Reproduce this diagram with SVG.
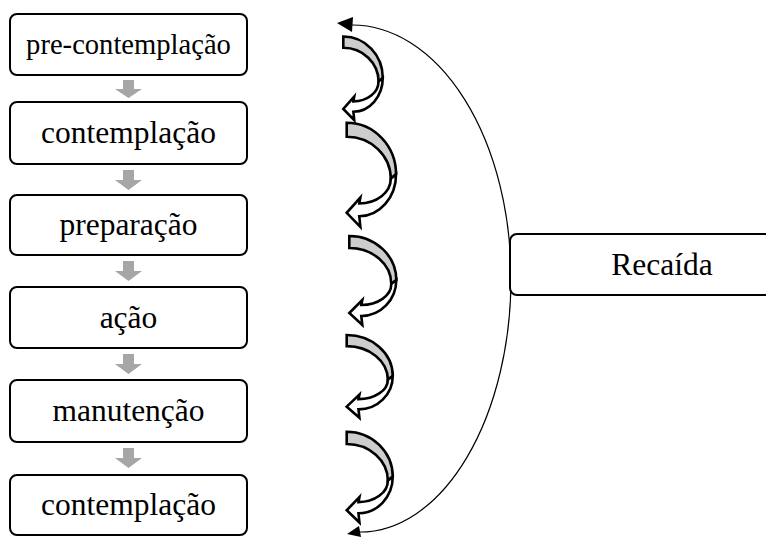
<svg xmlns="http://www.w3.org/2000/svg" width="766" height="537" viewBox="0 0 766 537">
<style>
.box{fill:#fff;stroke:#000;stroke-width:2}
.t{font-family:'Liberation Serif','Times New Roman','DejaVu Serif',serif;font-size:31.5px;fill:#000;text-anchor:middle}
.ga{fill:#a6a6a6;stroke:none}
.cb{fill:#cdcdcd;stroke:#000;stroke-width:2.6;stroke-linejoin:miter}
.cw{fill:#fff;stroke:#000;stroke-width:2.6;stroke-linejoin:miter}
.arc{fill:none;stroke:#000;stroke-width:1.2}
</style>
<defs>
<g id="curl">
<path class="cb" vector-effect="non-scaling-stroke" d="M0,0 A47,44 0 0 1 47,44 L42,48 A42,36 0 0 0 0,12 Z"/>
<path class="cw" vector-effect="non-scaling-stroke" d="M47,44 A35,36 0 0 1 12,80 L13,89 L0,77 L13,64 L12,69 A30,21 0 0 0 42,48 Z"/>
</g>
</defs>
<g id="connectors">
<polygon class="ga" points="123,80 134,80 134,89 142,89 128.5,98 115,89 123,89"/>
<polygon class="ga" points="123,170 134,170 134,180 142,180 128.5,190 115,180 123,180"/>
<polygon class="ga" points="123,261 134,261 134,271 142,271 128.5,281 115,271 123,271"/>
<polygon class="ga" points="123,354 134,354 134,364 142,364 128.5,374 115,364 123,364"/>
<polygon class="ga" points="123,448 134,448 134,458 142,458 128.5,468 115,458 123,458"/>
<path class="arc" d="M352,25 A159,253 0 0 1 511,278 A151,254 0 0 1 360,532"/>
<polygon points="337,23 353,17 352,32" fill="#000"/>
<polygon points="347,534 359,526 361,537" fill="#000"/>
<use href="#curl" transform="translate(343.3,36.5) scale(0.84,0.94)"/>
<use href="#curl" transform="translate(346.7,122.7) scale(1.05,1.17)"/>
<use href="#curl" transform="translate(349.3,236) scale(1,1)"/>
<use href="#curl" transform="translate(346.7,335) scale(0.98,0.93)"/>
<use href="#curl" transform="translate(346.7,431.7) scale(0.98,1.02)"/>
</g>
<g id="n1"><rect class="box" x="10" y="14" width="237" height="61" rx="7"/><text class="t" x="128.5" y="54" style="font-size:28.6px">pre-contemplação</text></g>
<g id="n2"><rect class="box" x="10" y="102" width="237" height="62" rx="7"/><text class="t" x="128.5" y="143">contemplação</text></g>
<g id="n3"><rect class="box" x="10" y="195" width="237" height="60" rx="7"/><text class="t" x="128.5" y="235">preparação</text></g>
<g id="n4"><rect class="box" x="10" y="287" width="237" height="61" rx="7"/><text class="t" x="128.5" y="328">ação</text></g>
<g id="n5"><rect class="box" x="10" y="380" width="237" height="62" rx="7"/><text class="t" x="128.5" y="421">manutenção</text></g>
<g id="n6"><rect class="box" x="10" y="475" width="237" height="60" rx="7"/><text class="t" x="128.5" y="515">contemplação</text></g>
<g id="recaida"><rect class="box" x="510" y="234" width="300" height="61" rx="7"/><text class="t" x="662" y="275">Recaída</text></g>
</svg>
